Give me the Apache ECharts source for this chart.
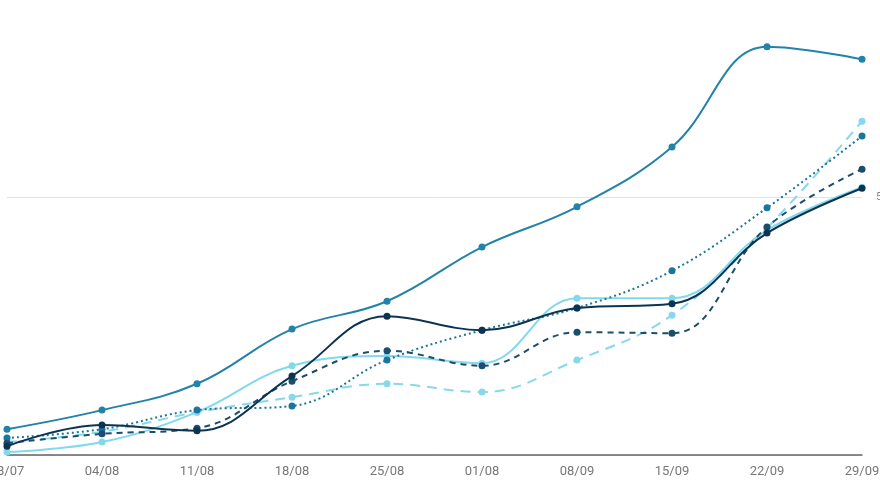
<!DOCTYPE html>
<html>
<head>
<meta charset="utf-8">
<script src="https://cdn.jsdelivr.net/npm/echarts@6/dist/echarts.min.js"></script>
<style>
  html, body { margin: 0; padding: 0; background: #fff; }
  #chart { width: 880px; height: 495px; }
</style>
</head>
<body>
<div id="chart"></div>
<script>
const weeks = ['28/07', '04/08', '11/08', '18/08', '25/08', '01/08', '08/09', '15/09', '22/09', '29/09']

const seriesA = [5.0, 8.7, 13.8, 24.4, 29.8, 40.3, 48.1, 59.7, 79.1, 76.7]
const seriesB = [1.7, 5.8, 4.7, 15.3, 26.9, 24.2, 28.5, 29.3, 43.0, 51.7]
const seriesC = [0.6, 2.5, 8.3, 17.3, 19.2, 17.8, 30.4, 30.4, 43.6, 51.9]
const seriesD = [2.5, 4.5, 8.3, 11.2, 13.8, 12.2, 18.4, 27.1, 44.0, 64.7]
const seriesE = [2.3, 4.1, 5.2, 14.3, 20.2, 17.3, 23.8, 23.6, 44.2, 55.4]
const seriesF = [3.3, 5.0, 8.7, 9.5, 18.4, 24.2, 28.5, 35.7, 47.9, 61.8]

const yTicks = { min: 0, max: 100, interval: 50 }

function line(name, data, color, type, z) {
  return {
    name,
    type: 'line',
    smooth: 0.4,
    symbol: 'circle',
    symbolSize: 7,
    data,
    z,
    lineStyle: { color, width: 2, type },
    itemStyle: { color }
  }
}

const chart = echarts.init(document.getElementById('chart'))
chart.setOption({
  animation: false,
  grid: { left: 7, right: 18, top: -61, bottom: 40, outerBoundsMode: 'none', containLabel: false },
  xAxis: {
    type: 'category',
    data: weeks,
    boundaryGap: false,
    axisLine: { lineStyle: { color: '#666', width: 1.5 } },
    axisTick: { show: false },
    axisLabel: { fontFamily: 'Roboto', fontSize: 13, color: '#777', margin: 10 }
  },
  yAxis: {
    type: 'value',
    position: 'right',
    min: yTicks.min,
    max: yTicks.max,
    interval: yTicks.interval,
    axisLine: { show: false },
    axisTick: { show: false },
    splitLine: { lineStyle: { color: '#e2e2e2' } },
    axisLabel: { showMinLabel: false, fontFamily: 'Roboto', fontSize: 11, color: '#888', margin: 14 }
  },
  series: [
    line('A', seriesA, '#2282a8', 'solid', 6),
    line('D', seriesD, '#88d8ec', [10, 7], 2),
    line('F', seriesF, '#1c759c', [2, 3], 3),
    line('E', seriesE, '#1b4d6c', [6, 5], 4),
    line('C', seriesC, '#82d9ed', 'solid', 1),
    line('B', seriesB, '#0c3452', 'solid', 5)
  ]
})
</script>
</body>
</html>
